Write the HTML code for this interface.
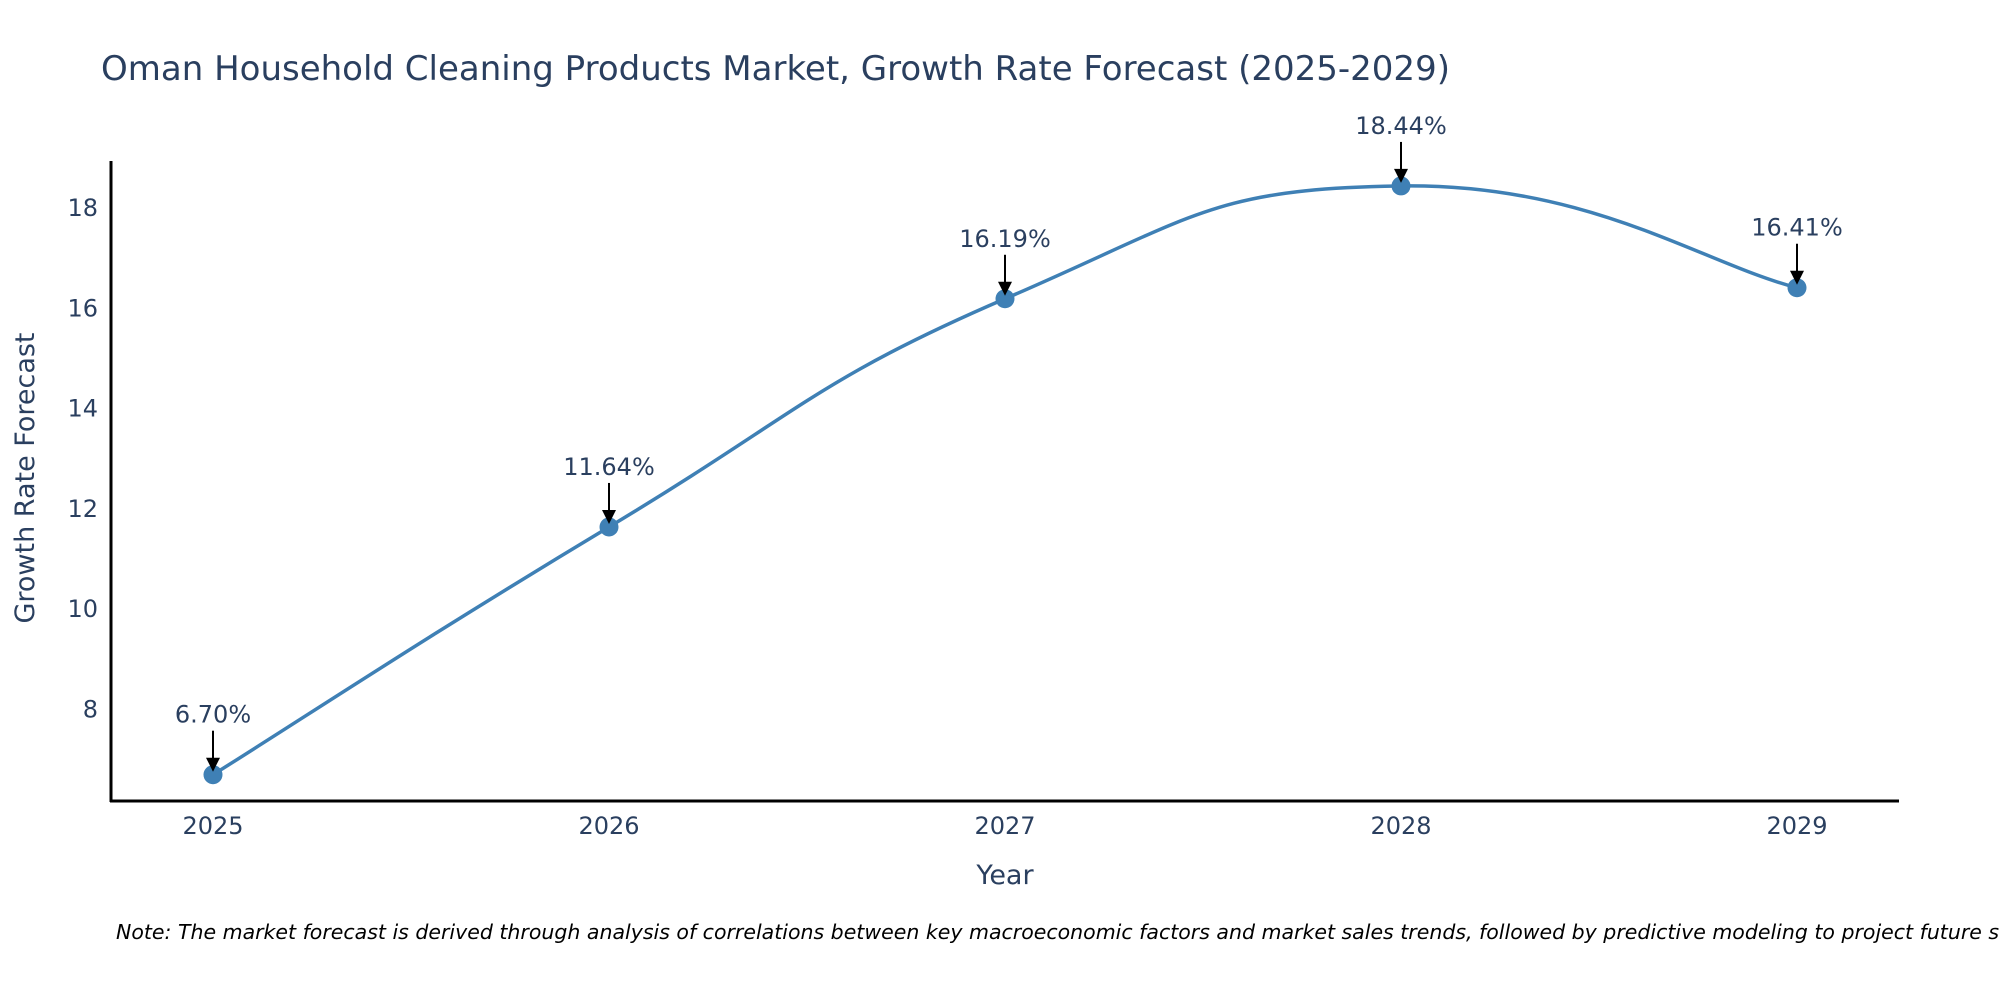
<!DOCTYPE html>
<html><head><meta charset="utf-8"><style>
body{margin:0;background:#fff;}
svg{display:block;font-family:"DejaVu Sans","Liberation Sans",sans-serif;}
</style></head><body>
<svg id="chart" width="2000" height="1000" viewBox="0 0 2000 1000" xmlns="http://www.w3.org/2000/svg">
<text x="101" y="80" font-size="34" fill="#2a3f5f">Oman Household Cleaning Products Market, Growth Rate Forecast (2025-2029)</text>
<g id="yticks"></g>
<g id="xticks"></g>
<line x1="111" y1="161" x2="111" y2="802" stroke="#000" stroke-width="3"/>
<line x1="110" y1="801" x2="1899" y2="801" stroke="#000" stroke-width="3"/>
<text transform="translate(34,478) rotate(-90)" text-anchor="middle" font-size="27" fill="#2a3f5f">Growth Rate Forecast</text>
<text x="1005" y="884" text-anchor="middle" font-size="27" fill="#2a3f5f">Year</text>
<path id="line" fill="none" stroke="#3f80b5" stroke-width="3.5"/>
<g id="marks"></g>
<text x="116" y="939" font-size="20.5" font-style="italic" fill="#000">Note: The market forecast is derived through analysis of correlations between key macroeconomic factors and market sales trends, followed by predictive modeling to project future sales</text>
</svg>
<script>
const years = ["2025","2026","2027","2028","2029"];
const values = [6.70, 11.64, 16.19, 18.44, 16.41];
const yTicks = [8, 10, 12, 14, 16, 18];
const NS = "http://www.w3.org/2000/svg";
const xS = i => 213 + i * 396;
const yS = v => 709.5 - (v - 8) * 50.15;
function mk(tag, attrs, parent, text){const e=document.createElementNS(NS,tag);for(const k in attrs)e.setAttribute(k,attrs[k]);if(text!==undefined)e.textContent=text;parent.appendChild(e);return e;}
const yt=document.getElementById('yticks');
yTicks.forEach(t=>{
  const e=mk('text',{x:98,y:yS(t)+8,'text-anchor':'end','font-size':24,fill:'#2a3f5f'},yt,String(t));
  
  
});
const xt=document.getElementById('xticks');
years.forEach((y,i)=>{
  const e=mk('text',{x:xS(i),y:834,'text-anchor':'middle','font-size':24,fill:'#2a3f5f'},xt,y);
  
  
});
const pts=values.map((v,i)=>[xS(i),yS(v)]);
let d=`M${pts[0][0]},${pts[0][1]}`;
const s=0.24;
for(let i=0;i<pts.length-1;i++){
  const p0=pts[Math.max(i-1,0)],p1=pts[i],p2=pts[i+1],p3=pts[Math.min(i+2,pts.length-1)];
  const c1=[p1[0]+(p2[0]-p0[0])*s,p1[1]+(p2[1]-p0[1])*s];
  const c2=[p2[0]-(p3[0]-p1[0])*s,p2[1]-(p3[1]-p1[1])*s];
  d+=` C${c1[0]},${c1[1]} ${c2[0]},${c2[1]} ${p2[0]},${p2[1]}`;
}
document.getElementById('line').setAttribute('d',d);
const mg=document.getElementById('marks');
values.forEach((v,i)=>{
  const x=xS(i),y=yS(v);
  const c=mk('circle',{cx:x,cy:y,r:9.5,fill:'#3f80b5'},mg);
  
  
  const l=mk('line',{x1:x,y1:y-44,x2:x,y2:y-14,stroke:'#000','stroke-width':2},mg);
  
  
  const a=mk('polygon',{points:`${x-7},${y-17} ${x+7},${y-17} ${x},${y-3}`,fill:'#000'},mg);
  
  
  const t=mk('text',{x:x,y:y-52,'text-anchor':'middle','font-size':24,fill:'#2a3f5f'},mg,v.toFixed(2)+'%');
  
  
});
</script>
</body></html>
